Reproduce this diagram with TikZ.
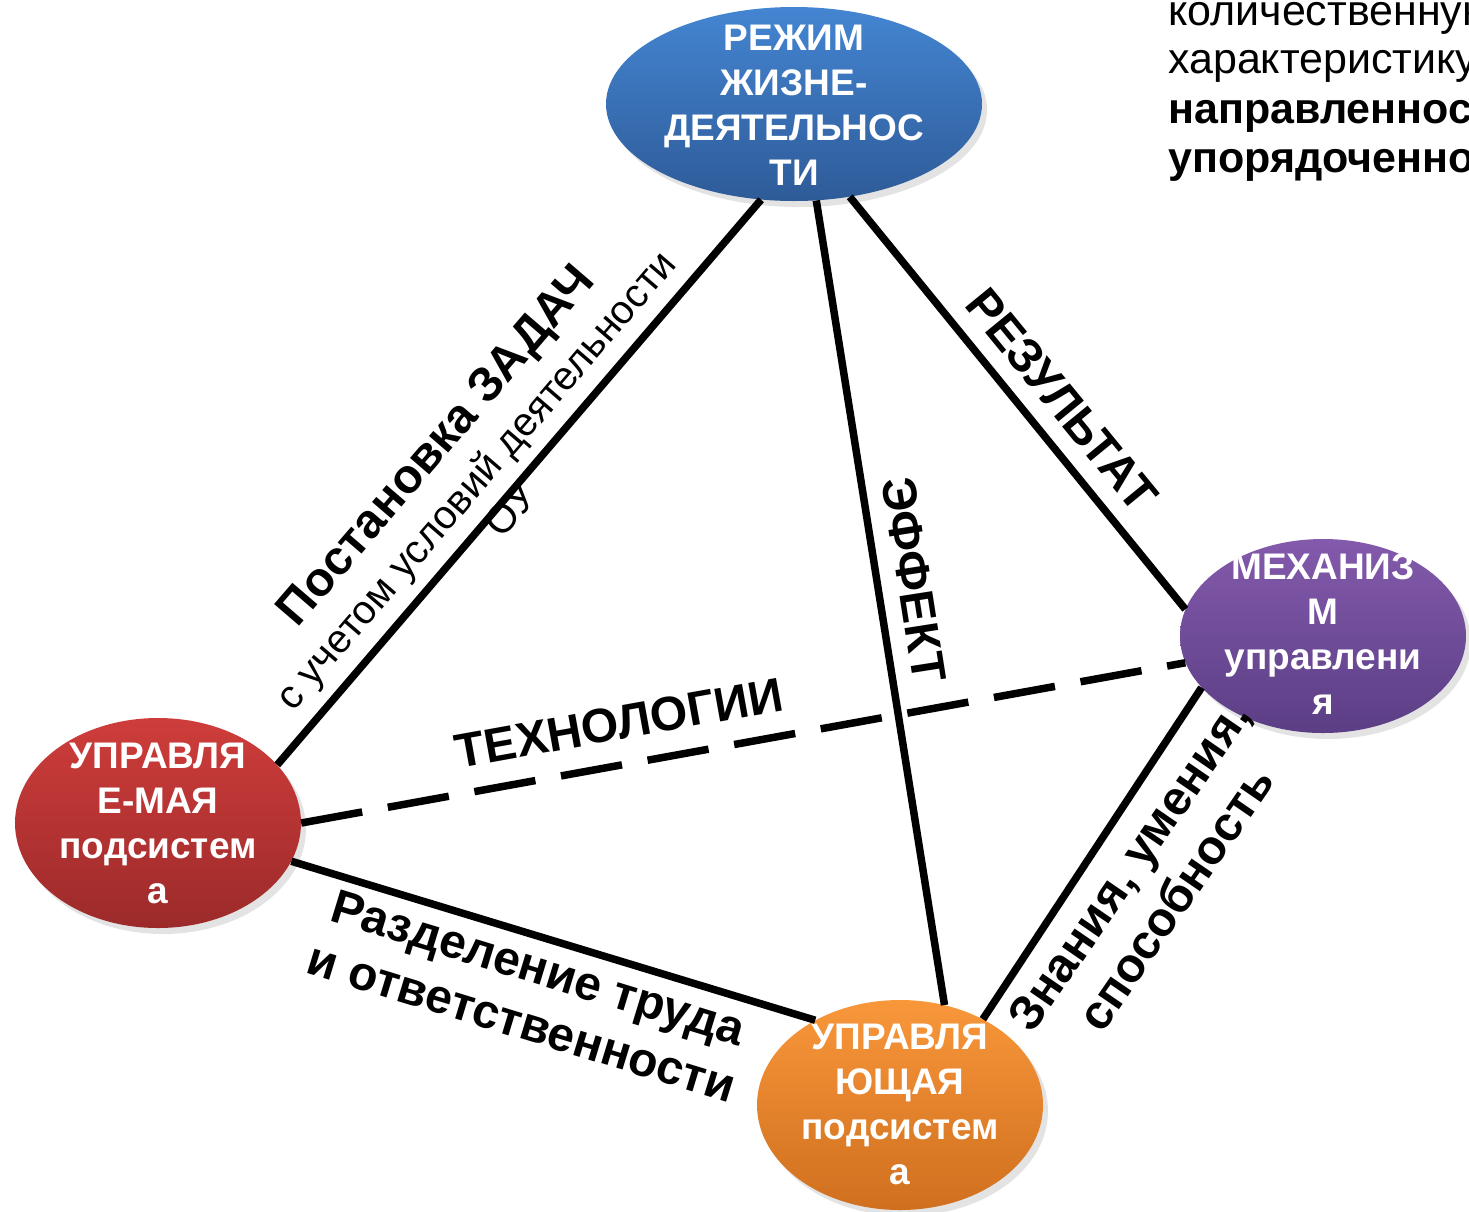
\documentclass[tikz,border=0pt]{standalone}
\usepackage{fontspec}
\setmainfont{Liberation Sans}
\usetikzlibrary{shapes.geometric,shadows}
\definecolor{blueT}{HTML}{4485D2}
\definecolor{blueB}{HTML}{2E5B98}
\definecolor{redT}{HTML}{CE3D3B}
\definecolor{redB}{HTML}{9C2A2A}
\definecolor{orT}{HTML}{F8973A}
\definecolor{orB}{HTML}{D06F1E}
\definecolor{puT}{HTML}{845AAC}
\definecolor{puB}{HTML}{5B3E85}
\tikzset{
  blob/.style={ellipse, inner sep=0pt, minimum width=286pt, minimum height=208pt,
    drop shadow={shadow xshift=5pt, shadow yshift=-6pt, opacity=0.22}},
  btxt/.style={text=white, font=\bfseries\fontsize{37}{45}\selectfont, align=center, inner sep=0pt},
  edgeline/.style={line width=7.5pt},
  dashline/.style={line width=7.5pt, dash pattern=on 62pt off 26pt},
  lbl/.style={font=\bfseries\fontsize{48}{57}\selectfont, align=center, inner sep=0pt},
  smalllbl/.style={font=\fontsize{40}{46}\selectfont, align=center, inner sep=0pt},
  toptxt/.style={anchor=base west, inner sep=0pt, font=\fontsize{43}{49}\selectfont},
  toptxtb/.style={toptxt, font=\bfseries\fontsize{43}{49}\selectfont}
}
\begin{document}
\begin{tikzpicture}[x=1pt,y=-1pt]
\useasboundingbox (0,0) rectangle (1469,1211);
% ellipses
\node[blob, minimum width=376pt, minimum height=194pt, top color=blueT, bottom color=blueB] (top) at (794,104) {};
\node[blob, minimum height=210pt, top color=redT, bottom color=redB] (red) at (158,823) {};
\node[blob, minimum height=210pt, top color=orT, bottom color=orB] (orange) at (900,1105) {};
\node[blob, minimum height=194pt, top color=puT, bottom color=puB] (purple) at (1323,636) {};
% texts in ellipses
\node[btxt] (topt) at (794,105) {РЕЖИМ\\ЖИЗНЕ-\\ДЕЯТЕЛЬНОС\\ТИ};
\node[btxt] (redt) at (158,823) {УПРАВЛЯ\\Е-МАЯ\\подсистем\\а};
\node[btxt] (ort) at (900,1104) {УПРАВЛЯ\\ЮЩАЯ\\подсистем\\а};
\node[btxt] (put) at (1323,634) {МЕХАНИЗ\\М\\управлени\\я};
% connectors
\draw[edgeline] (top.251.6) -- (red.26.8);
\draw[edgeline] (top.283.8) -- (orange.66.7);
\draw[edgeline] (top.301.1) -- (purple.169.2);
\draw[edgeline] (red.-16.2) -- (orange.135.7);
\draw[edgeline] (purple.203.8) -- (orange.46.3);
\draw[dashline] (red.0) -- (purple.191.5);
% labels
\node[lbl, rotate=49.3] (l1) at (438,447) {Постановка ЗАДАЧ};
\node[smalllbl, rotate=49.3] (l2) at (492,494) {с учетом условий деятельности\\ОУ};
\node[lbl, rotate=-50.7] (l3) at (1062,400) {РЕЗУЛЬТАТ};
\node[lbl, rotate=-81.1] (l4) at (914,580) {ЭФФЕКТ};
\node[lbl, rotate=10.2] (l5) at (619,723) {ТЕХНОЛОГИИ};
\node[lbl, rotate=-17] (l6) at (530,995) {Разделение труда\\и ответственности};
\node[lbl, rotate=55.5] (l7) at (1152,882) {Знания, умения,\\способность};
% top-right text (cut by the page edge)
\begin{scope}
\clip (0,0) rectangle (1469,1211);
\node[toptxt] (tr1) at (1168,25) {количественную};
\node[toptxt] (tr2) at (1168,73) {характеристику};
\node[toptxtb] (tr3) at (1168,123) {направленности};
\node[toptxtb] (tr4) at (1168,172) {упорядоченности};
\end{scope}
\end{tikzpicture}
\end{document}
